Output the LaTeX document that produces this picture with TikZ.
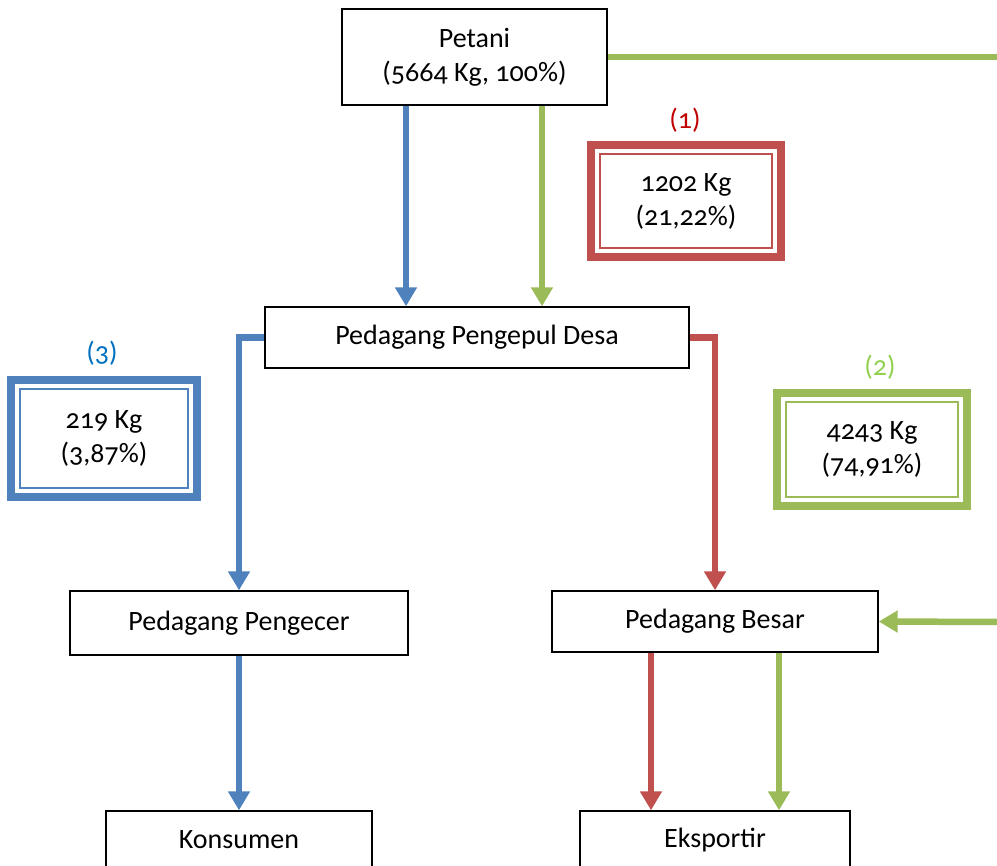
\documentclass[tikz,border=0pt]{standalone}
\usepackage{fontspec}
\setmainfont[Numbers=OldStyle]{Carlito}
\usetikzlibrary{arrows.meta}

\definecolor{flowblue}{HTML}{4F81BD}
\definecolor{flowred}{HTML}{C0504D}
\definecolor{flowgreen}{HTML}{9BBB59}
\definecolor{labred}{HTML}{C00000}
\definecolor{labblue}{HTML}{0070C0}
\definecolor{labgreen}{HTML}{92D050}

\tikzset{
  flowbox/.style={draw, line width=1.4pt, fill=white, align=center, inner sep=0pt},
  infobox/.style={draw=#1, line width=8pt, outer sep=0pt, fill=white, align=center, inner sep=0pt},
  flowarrow/.style={line width=6.5pt, -{Triangle[width=21pt,length=19pt]}},
  flowline/.style={line width=6.5pt},
}

\begin{document}
\begin{tikzpicture}[x=1pt, y=-1pt, font=\fontsize{28}{34}\selectfont]
    \useasboundingbox (0,0) rectangle (997,866);
    \clip (0,0) rectangle (997,866);

    % Draw the chain boxes
    \node[flowbox, minimum width=265pt, minimum height=96pt] (petani) at (474.5,57) {Petani\\(5664 Kg, 100\%)};
    \node[flowbox, minimum width=424pt, minimum height=61pt] (ppd) at (477,337.5) {Pedagang Pengepul Desa};
    \node[flowbox, minimum width=338pt, minimum height=64pt] (pengecer) at (239,623) {Pedagang Pengecer};
    \node[flowbox, minimum width=326pt, minimum height=61pt] (besar) at (715,621.5) {Pedagang Besar};
    \node[flowbox, minimum width=266pt, minimum height=58pt] (konsumen) at (239,840) {Konsumen};
    \node[flowbox, minimum width=270pt, minimum height=58pt] (eksportir) at (715,840) {Eksportir};

    % Draw the volume boxes
    \node[infobox=flowred, minimum width=190pt, minimum height=112pt] (vol1) at (686,201) {1202 Kg\\(21,22\%)};
    \node[infobox=flowgreen, minimum width=190pt, minimum height=113pt] (vol2) at (872,449.5) {4243 Kg\\(74,91\%)};
    \node[infobox=flowblue, minimum width=186pt, minimum height=117pt] (vol3) at (104,438.5) {219 Kg\\(3,87\%)};
    \draw[flowred, line width=2pt] ([shift={(9pt,-9pt)}]vol1.north west) rectangle ([shift={(-9pt,9pt)}]vol1.south east);
    \draw[flowgreen, line width=2pt] ([shift={(9pt,-9pt)}]vol2.north west) rectangle ([shift={(-9pt,9pt)}]vol2.south east);
    \draw[flowblue, line width=2pt] ([shift={(9pt,-9pt)}]vol3.north west) rectangle ([shift={(-9pt,9pt)}]vol3.south east);

    % Channel numbers
    \node[text=labred] (lab1) at (685,120) {(1)};
    \node[text=labgreen] (lab2) at (880,367) {(2)};
    \node[text=labblue] (lab3) at (102,353) {(3)};

    % Draw the flows
    \coordinate (edgeA) at (997,57);
    \coordinate (edgeB) at (997,622);
    \draw[flowline, flowgreen] (petani.east) -- (edgeA);
    \draw[flowarrow, flowblue] ([xshift=-68.5pt]petani.south) -- ([xshift=-71pt]ppd.north);
    \draw[flowarrow, flowgreen] ([xshift=67.5pt]petani.south) -- ([xshift=65pt]ppd.north);
    \draw[flowarrow, flowblue] (ppd.west) -| (pengecer.north);
    \draw[flowarrow, flowred] (ppd.east) -| (besar.north);
    \draw[flowarrow, flowgreen] (edgeB) -- (besar.east);
    \draw[flowarrow, flowblue] (pengecer.south) -- (konsumen.north);
    \draw[flowarrow, flowred] ([xshift=-64pt]besar.south) -- ([xshift=-64pt]eksportir.north);
    \draw[flowarrow, flowgreen] ([xshift=64pt]besar.south) -- ([xshift=64pt]eksportir.north);
\end{tikzpicture}
\end{document}
